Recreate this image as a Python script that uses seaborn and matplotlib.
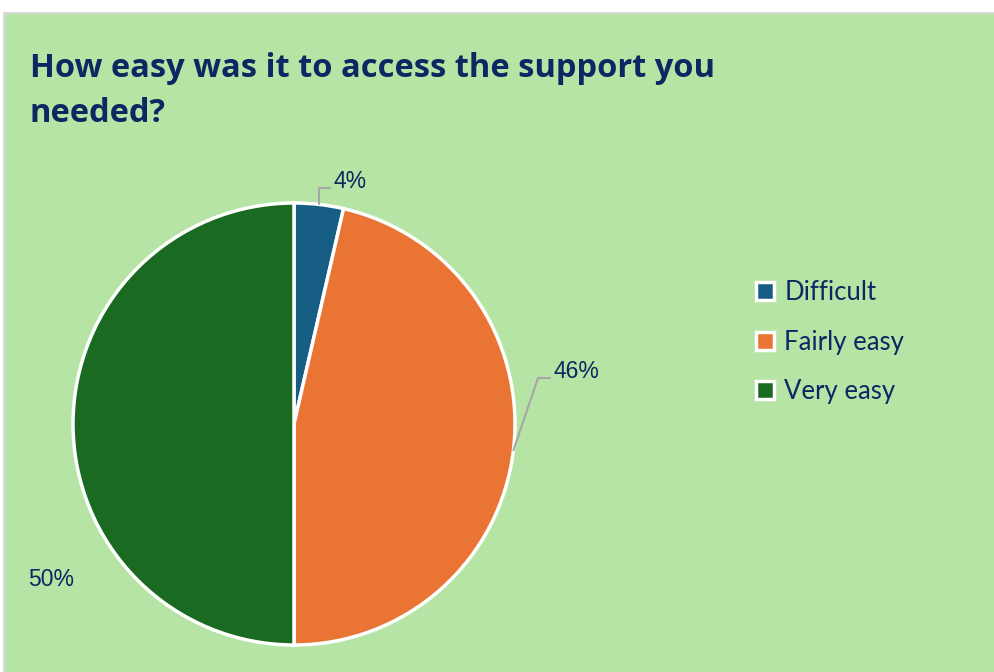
import numpy as np
import matplotlib
matplotlib.use("Agg")
import matplotlib.pyplot as plt
import seaborn as sns
from matplotlib.patches import Rectangle, Patch

categories = ["Difficult", "Fairly easy", "Very easy"]
values = [3.6, 46.4, 50.0]
pct_labels = ["4%", "46%", "50%"]
title_lines = ["How easy was it to access the support you", "needed?"]

sns.set_theme(style="white")
colors = sns.color_palette(["#175E84", "#EA7434", "#1B6A22"])
navy = "#0E2661"
bg = "#B5E4A5"

W, H = 994, 672
fig = plt.figure(figsize=(W / 100, H / 100), dpi=100)
fig.patch.set_facecolor("white")
fig.patches.append(Rectangle((4 / W, -0.01), 1, 1.01 - 13 / H, transform=fig.transFigure,
                             facecolor=bg, edgecolor="#D9D9D9", linewidth=1.5, zorder=-10))

cx, cy, r = 294, 424, 221
ax = fig.add_axes([(cx - r) / W, (H - cy - r) / H, 2 * r / W, 2 * r / H])
ax.set_zorder(2)

wedges, _ = ax.pie(values, colors=colors, startangle=90, counterclock=False, radius=1,
                   wedgeprops=dict(edgecolor="white", linewidth=2.5))
ax.set_xlim(-1, 1)
ax.set_ylim(-1, 1)
ax.set_aspect("equal")
ax.axis("off")

fig.text(30 / W, 1 - 77 / H, title_lines[0], fontsize=23.5, fontweight="bold", color=navy,
         family="Open Sans", va="baseline", ha="left")
fig.text(30 / W, 1 - 122 / H, title_lines[1], fontsize=23.5, fontweight="bold", color=navy,
         family="Open Sans", va="baseline", ha="left")

def px2d(x, y):
    return ((x - cx) / r, (cy - y) / r)

def edge_point(w, frac=0.5):
    ang = np.deg2rad(w.theta1 + (w.theta2 - w.theta1) * frac)
    return np.cos(ang), np.sin(ang)

lab_font = dict(fontsize=16.5, color=navy, family="Liberation Sans")
# 4%
p0 = edge_point(wedges[0], 0.5)
b0 = px2d(318, 188); e0 = px2d(330, 188)
ax.plot([p0[0], p0[0], e0[0]], [p0[1], b0[1], e0[1]], color="#A6A6A6", lw=1.5, clip_on=False)
ax.text(*px2d(334, 181), pct_labels[0], ha="left", va="center", **lab_font)
# 46%
ang = np.deg2rad(-6.8)
p1 = (np.cos(ang), np.sin(ang))
b1 = px2d(538, 378); e1 = px2d(550, 378)
ax.plot([p1[0], b1[0], e1[0]], [p1[1], b1[1], e1[1]], color="#A6A6A6", lw=1.5, clip_on=False)
ax.text(*px2d(554, 372), pct_labels[1], ha="left", va="center", **lab_font)
# 50%
ax.text(*px2d(28, 579), pct_labels[2], ha="left", va="center", **lab_font)

handles = [Patch(facecolor=c, edgecolor="white", linewidth=2.5) for c in colors]
leg = fig.legend(handles, categories, loc="center left", bbox_to_anchor=(756 / W, 1 - 342 / H),
                 frameon=False, handlelength=0.7, handleheight=0.7,
                 handletextpad=0.4, labelspacing=0.95, borderaxespad=0, borderpad=0,
                 prop=dict(family="Lato", size=18.5))
for t in leg.get_texts():
    t.set_color(navy)

fig.savefig("out.png", dpi=100, facecolor="white")
